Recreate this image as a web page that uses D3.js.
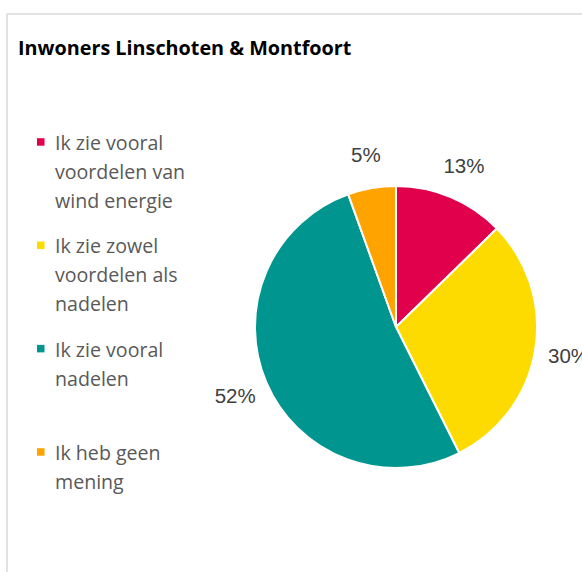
<!DOCTYPE html>
<html>
<head>
<meta charset="utf-8">
<script src="https://cdn.jsdelivr.net/npm/d3@7"></script>
<style>
  html, body { margin: 0; padding: 0; background: #fff; }
  svg { display: block; }
</style>
</head>
<body>
<svg id="chart" width="582" height="572"></svg>
<script>
// ---- data ----
const title = "Inwoners Linschoten & Montfoort";
const categories = [
  "Ik zie vooral voordelen van wind energie",
  "Ik zie zowel voordelen als nadelen",
  "Ik zie vooral nadelen",
  "Ik heb geen mening"
];
const legendLines = [
  ["Ik zie vooral", "voordelen van", "wind energie"],
  ["Ik zie zowel", "voordelen als", "nadelen"],
  ["Ik zie vooral", "nadelen"],
  ["Ik heb geen", "mening"]
];
const values = [12.7, 29.9, 51.9, 5.5];
const labels = ["13%", "30%", "52%", "5%"];
const colors = ["#E1004B", "#FDDB00", "#00968F", "#FFA300"];

// ---- layout ----
const svg = d3.select("#chart");
const W = 582, H = 572;

// frame
svg.append("line").attr("x1", 7).attr("x2", W).attr("y1", 14).attr("y2", 14)
  .attr("stroke", "#d9d9d9").attr("stroke-width", 1.5);
svg.append("line").attr("x1", 7).attr("x2", 7).attr("y1", 14).attr("y2", H)
  .attr("stroke", "#d9d9d9").attr("stroke-width", 1.5);

svg.append("text")
  .attr("x", 18).attr("y", 55)
  .attr("font-family", "'Open Sans', sans-serif")
  .attr("font-weight", 700)
  .attr("font-size", 19.8)
  .attr("fill", "#000")
  .text(title);

// pie
const cx = 396, cy = 327, r = 141;
const color = d3.scaleOrdinal().domain(categories).range(colors);
const pie = d3.pie().sort(null).value(d => d.value);
const data = categories.map((c, i) => ({ cat: c, value: values[i], label: labels[i] }));
const arcs = pie(data);
const arc = d3.arc().innerRadius(0).outerRadius(r);
const labelArc = d3.arc().innerRadius(175).outerRadius(175);

const g = svg.append("g").attr("transform", `translate(${cx},${cy})`);
g.selectAll("path.slice").data(arcs).join("path")
  .attr("class", "slice")
  .attr("d", arc)
  .attr("fill", d => color(d.data.cat))
  .attr("stroke", "#fff")
  .attr("stroke-width", 2)
  .attr("stroke-linejoin", "round");

g.selectAll("text.pct").data(arcs).join("text")
  .attr("class", "pct")
  .attr("transform", d => `translate(${labelArc.centroid(d)})`)
  .attr("text-anchor", "middle")
  .attr("dy", "0.35em")
  .attr("font-family", "'Liberation Sans', Arial, sans-serif")
  .attr("font-size", 20.5)
  .attr("fill", "#404040")
  .text(d => d.data.label);

// legend
const legendY = d3.scalePoint().domain(categories).range([142, 452]);
const lg = svg.append("g");
const items = lg.selectAll("g.item").data(categories).join("g")
  .attr("class", "item")
  .attr("transform", d => `translate(0,${legendY(d)})`);
items.append("rect")
  .attr("x", 37).attr("y", -3.8).attr("width", 7.5).attr("height", 7.5)
  .attr("fill", d => color(d));
items.append("text")
  .attr("x", 55)
  .attr("font-family", "'Open Sans', sans-serif")
  .attr("font-size", 19.6)
  .attr("fill", "#595959")
  .selectAll("tspan")
  .data((d, i) => legendLines[i])
  .join("tspan")
  .attr("x", 55)
  .attr("y", (d, j) => 8 + j * 29)
  .text(d => d);
</script>
</body>
</html>
